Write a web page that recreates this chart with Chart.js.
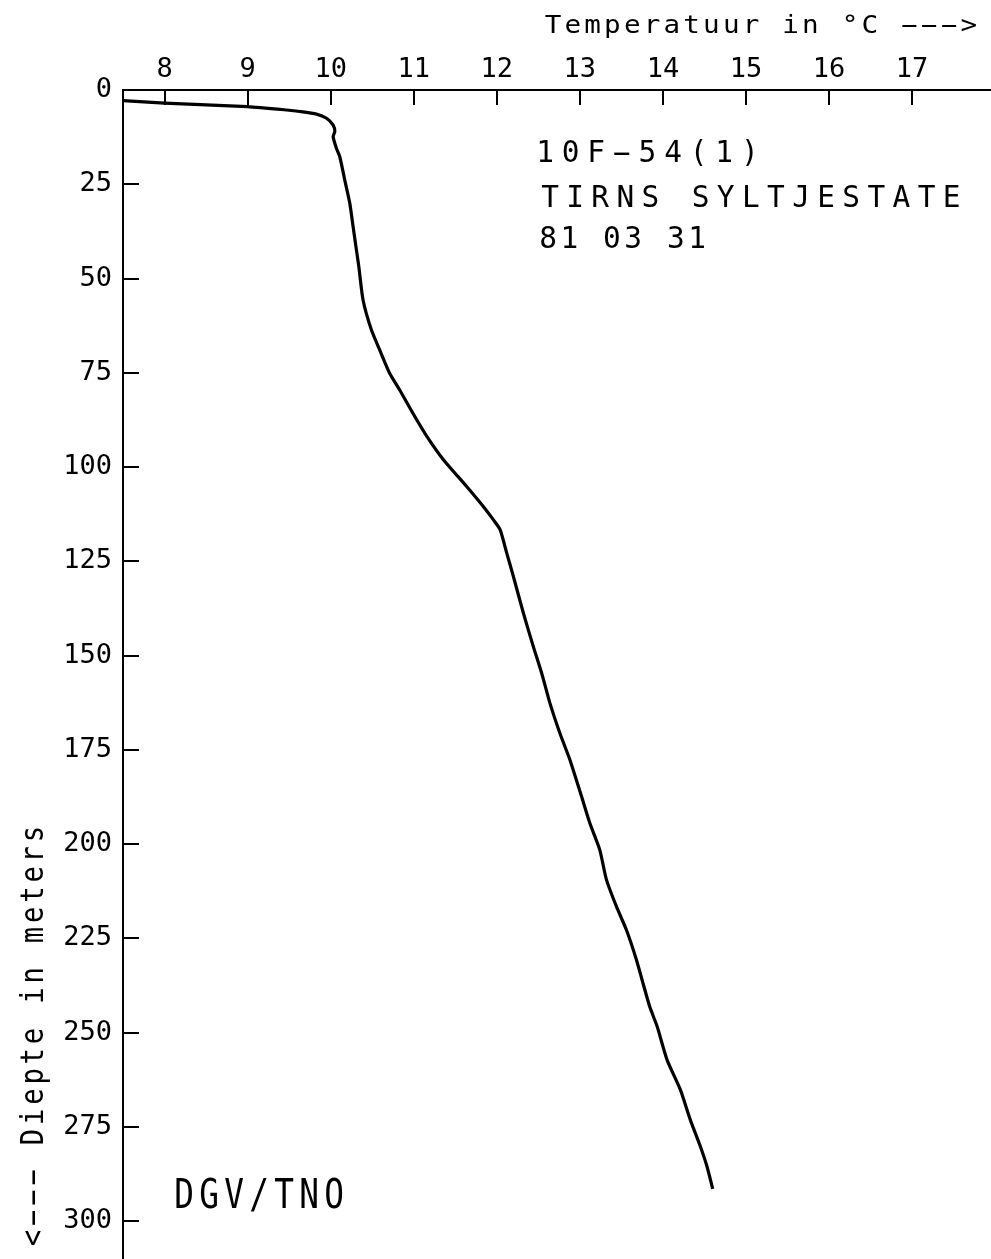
<!DOCTYPE html>
<html>
<head>
<meta charset="utf-8">
<script src="https://cdn.jsdelivr.net/npm/chart.js@4/dist/chart.umd.min.js"></script>
<style>
  html, body { margin: 0; padding: 0; background: #fff; overflow: hidden; }
  canvas { display: block; }
</style>
</head>
<body>
<canvas id="profile" width="991" height="1259"></canvas>
<script>
// Temperature log of borehole 10F-54(1): depth (m) and temperature (°C)
const depthM = [
  2.8, 3.5, 4.4, 5.3, 5.7, 6.4, 7.5, 9.3, 11.0, 12.4, 15.5, 17.7, 23.9, 30.0,
  36.2, 42.4, 47.0, 55.7, 63.6, 68.9, 75.1, 79.5, 85.7, 91.9, 98.1, 105.2,
  110.5, 114.0, 116.6, 122.8, 129.0, 138.7, 147.6, 154.6, 162.6, 170.6, 177.6,
  187.3, 194.4, 201.5, 209.4, 216.5, 222.7, 230.6, 243.0, 248.3, 257.2, 265.1,
  273.1, 280.1, 285.4, 291.4
];
const tempC = [
  7.50, 8.00, 9.00, 9.47, 9.63, 9.83, 9.95, 10.03, 10.05, 10.03, 10.07, 10.11, 10.17, 10.23,
  10.27, 10.31, 10.34, 10.39, 10.49, 10.59, 10.71, 10.83, 10.99, 11.16, 11.36, 11.64,
  11.84, 11.96, 12.04, 12.12, 12.20, 12.32, 12.44, 12.54, 12.64, 12.76, 12.88,
  13.02, 13.12, 13.24, 13.32, 13.44, 13.56, 13.68, 13.84, 13.93, 14.05, 14.21,
  14.33, 14.45, 14.53, 14.60
];

// Axis ticks
const tempTicks = [8, 9, 10, 11, 12, 13, 14, 15, 16, 17];
const depthTicks = [0, 25, 50, 75, 100, 125, 150, 175, 200, 225, 250, 275, 300];

// Texts
const xTitle = 'Temperatuur in °C --->';
const yTitle = '<--- Diepte in meters';
const wellLines = ['10F-54(1)', 'TIRNS SYLTJESTATE', '81 03 31'];
const sourceLabel = 'DGV/TNO';

const MONO = '"DejaVu Sans Mono", "Liberation Mono", monospace';

// Draws text on a fixed character pitch, like a pen plotter would;
// dashes are stretched so that runs of them join up
function drawPlotterText(ctx, text, x, y, size, pitch, sx) {
  ctx.save();
  ctx.font = size + 'px ' + MONO;
  ctx.fillStyle = '#000';
  ctx.textAlign = 'center';
  ctx.textBaseline = 'alphabetic';
  for (let i = 0; i < text.length; i++) {
    const ch = text[i];
    if (ch === ' ') continue;
    ctx.save();
    ctx.translate(x + i * pitch, y);
    ctx.scale((sx || 1) * (ch === '-' ? 2.0 : 1), 1);
    ctx.fillText(ch, 0, 0);
    ctx.restore();
  }
  ctx.restore();
}

// Inward tick marks and the annotation texts
const plotterDecor = {
  id: 'plotterDecor',
  afterDraw(chart) {
    const ctx = chart.ctx;
    const xs = chart.scales.x, ys = chart.scales.y;
    const area = chart.chartArea;
    ctx.save();
    ctx.strokeStyle = '#000';
    ctx.lineWidth = 2;
    ctx.beginPath();
    xs.ticks.forEach(t => {
      const px = Math.round(xs.getPixelForValue(t.value));
      ctx.moveTo(px, area.top);
      ctx.lineTo(px, area.top + 15);
    });
    ys.ticks.forEach(t => {
      if (t.value === 0) return;
      const py = Math.round(ys.getPixelForValue(t.value));
      ctx.moveTo(area.left, py);
      ctx.lineTo(area.left + 16, py);
    });
    ctx.stroke();
    ctx.restore();

    drawPlotterText(ctx, xTitle, 553, 33, 24, 19.8, 1.15);

    ctx.save();
    ctx.translate(43, 1238);
    ctx.rotate(-Math.PI / 2);
    drawPlotterText(ctx, yTitle, 0, 0, 32, 20.2, 0.85);
    ctx.restore();

    drawPlotterText(ctx, wellLines[0], 545, 162, 31, 25.6, 0.95);
    drawPlotterText(ctx, wellLines[1], 550, 207, 31, 25.1, 0.95);
    drawPlotterText(ctx, wellLines[2], 548, 248, 31, 21.3, 0.95);

    drawPlotterText(ctx, sourceLabel, 184, 1208, 41, 25, 0.8);
  }
};

const points = depthM.map((d, i) => ({ x: tempC[i], y: d }));

new Chart(document.getElementById('profile'), {
  type: 'scatter',
  data: {
    datasets: [{
      data: points,
      showLine: true,
      borderColor: '#000',
      borderWidth: 3.2,
      pointRadius: 0,
      tension: 0.2,
      fill: false
    }]
  },
  options: {
    responsive: false,
    animation: false,
    devicePixelRatio: 1,
    layout: { padding: 0 },
    plugins: { legend: { display: false }, tooltip: { enabled: false } },
    scales: {
      x: {
        type: 'linear',
        position: 'top',
        min: 7.5,
        max: 17.95,
        afterBuildTicks: s => { s.ticks = tempTicks.map(v => ({ value: v })); },
        afterFit: s => { s.height = 90; s.paddingLeft = 0; s.paddingRight = 0; },
        grid: { display: false },
        border: { display: true, color: '#000', width: 2 },
        ticks: {
          color: '#000',
          padding: -4,
          maxRotation: 0,
          autoSkip: false,
          font: { family: MONO, size: 27 }
        }
      },
      y: {
        type: 'linear',
        position: 'left',
        reverse: true,
        min: 0,
        max: 310,
        afterBuildTicks: s => { s.ticks = depthTicks.map(v => ({ value: v })); },
        afterFit: s => { s.width = 123; s.paddingTop = 0; s.paddingBottom = 0; },
        grid: { display: false },
        border: { display: true, color: '#000', width: 2 },
        ticks: {
          color: '#000',
          padding: 3,
          autoSkip: false,
          font: { family: MONO, size: 27 }
        }
      }
    }
  },
  plugins: [plotterDecor]
});
</script>
</body>
</html>
